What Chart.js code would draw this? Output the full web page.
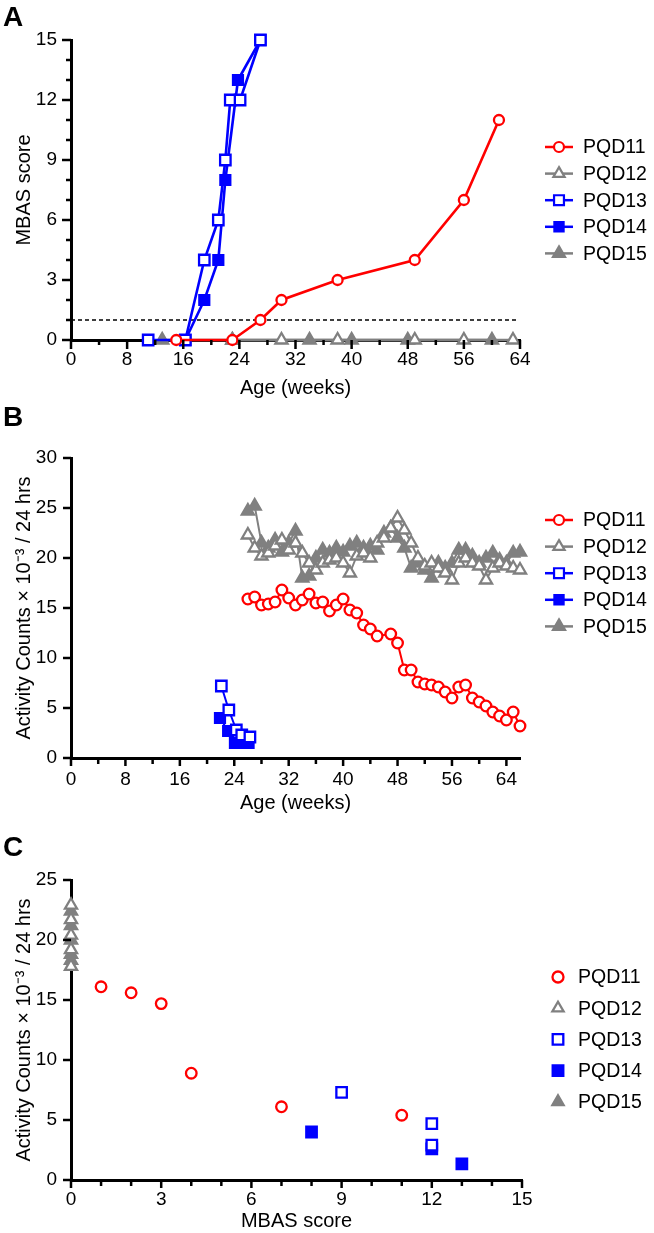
<!DOCTYPE html>
<html>
<head>
<meta charset="utf-8">
<script src="https://cdn.jsdelivr.net/npm/chart.js@4.4.1/dist/chart.umd.min.js"></script>
<style>
  body { margin: 0; background: #fff; width: 654px; height: 1233px; position: relative; overflow: hidden;
         font-family: "Liberation Sans", Arial, sans-serif; }
  .panel { position: absolute; left: 0; width: 654px; }
  .panel canvas { display: block; }
  .letter { position: absolute; left: 3px; font-weight: bold; font-size: 28px; line-height: 1; }
</style>
</head>
<body>
<div class="panel" style="top:0;height:400px"><canvas id="chartA" width="654" height="400"></canvas></div>
<div class="panel" style="top:400px;height:420px"><canvas id="chartB" width="654" height="420"></canvas></div>
<div class="panel" style="top:820px;height:413px"><canvas id="chartC" width="654" height="413"></canvas></div>
<div class="letter" style="top:3px">A</div>
<div class="letter" style="top:403px">B</div>
<div class="letter" style="top:833px">C</div>

<script>
// ---- Panel A: MBAS score vs age ----
const aWeeks11 = [15, 23, 27, 30, 38, 49, 56, 61];
const aScore11 = [0, 0, 1, 2, 3, 4, 7, 11];
const aWeeks12 = [23, 30, 38, 49, 56, 63];
const aScore12 = [0, 0, 0, 0, 0, 0];
const aWeeks13 = [11, 16.3, 19, 21, 22, 22.7, 24.1, 27];
const aScore13 = [0, 0, 4, 6, 9, 12, 12, 15];
const aWeeks14 = [16.3, 19, 21, 22, 23.8, 27];
const aScore14 = [0, 2, 4, 8, 13, 15];
const aWeeks15 = [13, 23, 34, 40, 48, 60];
const aScore15 = [0, 0, 0, 0, 0, 0];
const aThresholdX = [0, 63.5];
const aThresholdY = [1, 1];
const aTicksX = [0, 8, 16, 24, 32, 40, 48, 56, 64];
const aMinorX = [4, 12, 20, 28, 36, 44, 52, 60];
const aTicksY = [0, 3, 6, 9, 12, 15];
const aMinorY = [1, 2, 4, 5, 7, 8, 10, 11, 13, 14];

// ---- Panel B: activity vs age ----
const bWeeks11 = [26, 27, 28, 29, 30, 31, 32, 33, 34, 35, 36, 37, 38, 39, 40, 41, 42, 43, 44, 45,
                  47, 48, 49, 50, 51, 52, 53, 54, 55, 56, 57, 58, 59, 60, 61, 62, 63, 64, 65, 66];
const bAct11 = [15.9, 16.1, 15.3, 15.4, 15.6, 16.8, 16.0, 15.3, 15.8, 16.4, 15.5, 15.6, 14.7, 15.3, 15.9, 14.8, 14.5, 13.3, 12.9, 12.2,
                12.4, 11.5, 8.8, 8.8, 7.6, 7.4, 7.3, 7.1, 6.6, 6.0, 7.1, 7.3, 6.0, 5.6, 5.2, 4.6, 4.2, 3.8, 4.6, 3.2];
const bWeeks12 = [26, 27, 28, 29, 30, 31, 32, 33, 34, 35, 36, 37, 38, 39, 40, 41, 42, 43, 44, 45, 46,
                  47, 48, 49, 50, 51, 52, 53, 54, 55, 56, 57, 58, 59, 60, 61, 62, 63, 64, 65, 66];
const bAct12 = [22.3, 21.0, 20.2, 20.5, 21.2, 21.8, 20.8, 21.5, 20.5, 19.5, 18.8, 19.5, 19.8, 20.0, 19.5, 18.5, 20.2, 20.5, 20.0, 21.5, 22.0,
                23.0, 24.0, 22.8, 21.5, 20.0, 19.2, 19.5, 19.0, 18.5, 17.8, 19.5, 20.0, 19.5, 19.2, 17.8, 19.0, 19.5, 19.2, 19.0, 18.8];
const bWeeks13 = [22.1, 23.2, 24.3, 25.1, 26.3];
const bAct13 = [7.2, 4.8, 2.8, 2.3, 2.1];
const bWeeks14 = [21.9, 23.1, 24.1, 25.1, 26.1];
const bAct14 = [4.0, 2.7, 1.5, 1.5, 1.5];
const bWeeks15 = [26, 27, 28, 29, 30, 31, 32, 33, 34, 35, 36, 37, 38, 39, 40, 41, 42, 43, 44, 45, 46,
                  47, 48, 49, 50, 51, 52, 53, 54, 55, 56, 57, 58, 59, 60, 61, 62, 63, 64, 65, 66];
const bAct15 = [24.7, 25.2, 21.5, 21.0, 21.8, 20.6, 21.5, 22.7, 18.0, 18.2, 20.0, 20.8, 20.5, 21.0, 20.6, 21.2, 21.5, 21.0, 21.2, 20.8, 22.5,
                23.0, 22.0, 21.0, 19.0, 19.5, 18.8, 18.0, 19.5, 19.0, 19.5, 20.8, 20.8, 20.2, 19.5, 20.0, 20.5, 19.8, 19.5, 20.5, 20.6];
const bTicksX = [0, 8, 16, 24, 32, 40, 48, 56, 64];
const bMinorX = [4, 12, 20, 28, 36, 44, 52, 60];
const bTicksY = [0, 5, 10, 15, 20, 25, 30];

// ---- Panel C: activity vs MBAS score ----
const cScore11 = [1, 2, 3, 4, 7, 11];
const cAct11 = [16.1, 15.6, 14.7, 8.9, 6.1, 5.4];
const cScore12 = [0, 0, 0, 0, 0];
const cAct12 = [22.9, 21.7, 20.4, 19.2, 17.8];
const cScore13 = [9, 12, 12];
const cAct13 = [7.3, 4.7, 2.9];
const cScore14 = [8, 12, 13];
const cAct14 = [4.0, 2.6, 1.35];
const cScore15 = [0, 0, 0, 0, 0];
const cAct15 = [22.4, 21.2, 20.0, 18.8, 18.3];
const cTicksX = [0, 3, 6, 9, 12, 15];
const cMinorX = [1, 2, 4, 5, 7, 8, 10, 11, 13, 14];
const cTicksY = [0, 5, 10, 15, 20, 25];

const names = ['PQD11', 'PQD12', 'PQD13', 'PQD14', 'PQD15'];
const RED = '#ff0000', GRAY = '#808080', BLUE = '#0000ff';
const FONT = '"Liberation Sans", Arial, sans-serif';

Chart.defaults.font.family = FONT;
Chart.defaults.font.size = 19;
Chart.defaults.color = '#000';
Chart.defaults.animation = false;

function pts(xs, ys) {
  return xs.map((x, i) => ({ x: x, y: ys[i] }));
}

// hand-made marker for the legend
function marker(ctx, style, x, y, r, fill, stroke, lw) {
  ctx.beginPath();
  if (style === 'circle') {
    ctx.arc(x, y, r, 0, Math.PI * 2);
  } else if (style === 'rect') {
    const s = r * Math.SQRT1_2;
    ctx.rect(x - s, y - s, 2 * s, 2 * s);
  } else {
    ctx.moveTo(x, y - r);
    ctx.lineTo(x + r * Math.sin(2 * Math.PI / 3), y - r * Math.cos(2 * Math.PI / 3));
    ctx.lineTo(x + r * Math.sin(4 * Math.PI / 3), y - r * Math.cos(4 * Math.PI / 3));
    ctx.closePath();
  }
  ctx.fillStyle = fill;
  ctx.fill();
  ctx.lineWidth = lw;
  ctx.strokeStyle = stroke;
  ctx.stroke();
}

// tick marks (major + minor) drawn from the scales
const tickMarks = {
  id: 'tickMarks',
  afterDraw(chart, args, o) {
    const { ctx } = chart;
    const x = chart.scales.x, y = chart.scales.y;
    const area = chart.chartArea;
    ctx.save();
    ctx.strokeStyle = '#000';
    ctx.lineWidth = o.width;
    ctx.lineCap = 'butt';
    const hx = (vals, len) => vals.forEach(v => {
      const p = x.getPixelForValue(v);
      ctx.beginPath(); ctx.moveTo(p, area.bottom); ctx.lineTo(p, area.bottom + len); ctx.stroke();
    });
    const vy = (vals, len) => vals.forEach(v => {
      const p = y.getPixelForValue(v);
      ctx.beginPath(); ctx.moveTo(area.left, p); ctx.lineTo(area.left - len, p); ctx.stroke();
    });
    hx(o.xMajor || [], o.major);
    hx(o.xMinor || [], o.minor);
    vy(o.yMajor || [], o.major);
    vy(o.yMinor || [], o.minor);
    ctx.restore();
  }
};

// legend at the right side
const sideLegend = {
  id: 'sideLegend',
  afterDraw(chart, args, o) {
    const { ctx } = chart;
    ctx.save();
    ctx.font = '19.5px ' + FONT;
    ctx.textBaseline = 'middle';
    let i = 0;
    chart.data.datasets.forEach(ds => {
      if (ds.noLegend) return;
      const yy = o.top + i * o.gap;
      if (o.line) {
        ctx.strokeStyle = ds.borderColor;
        ctx.lineWidth = o.lineWidth;
        ctx.beginPath(); ctx.moveTo(o.x - o.half, yy); ctx.lineTo(o.x + o.half, yy); ctx.stroke();
      }
      marker(ctx, ds.pointStyle, o.x, yy, ds.legendRadius, ds.pointBackgroundColor, ds.borderColor, o.markerLine);
      ctx.fillStyle = '#000';
      ctx.fillText(ds.label, o.textX, yy + 1);
      i++;
    });
    ctx.restore();
  }
};

function series(label, data, color, style, filled, radius, lineW, legendRadius) {
  return {
    label: label,
    data: data,
    borderColor: color,
    backgroundColor: color,
    borderWidth: lineW,
    pointStyle: style,
    pointRadius: radius,
    pointHoverRadius: radius,
    pointBorderWidth: 2.3,
    pointBorderColor: color,
    pointBackgroundColor: filled ? color : '#ffffff',
    legendRadius: legendRadius,
    tension: 0,
    clip: false
  };
}

function axis(min, max, majors, pad, title, titlePad, size, isX) {
  return {
    type: 'linear',
    min: min,
    max: max,
    afterBuildTicks: s => { s.ticks = majors.map(v => ({ value: v })); },
    afterFit: s => { if (isX) s.height = size; else s.width = size; },
    grid: { display: false, drawTicks: false },
    border: { display: true, color: '#000', width: 3 },
    ticks: { padding: pad, color: '#000', font: { size: 19 }, maxRotation: 0, autoSkip: false },
    title: { display: true, text: title, color: '#000', font: { size: 20 }, padding: titlePad }
  };
}

// ---------- A ----------
new Chart(document.getElementById('chartA'), {
  type: 'line',
  data: {
    datasets: [
      series(names[0], pts(aWeeks11, aScore11), RED, 'circle', false, 5, 2.6, 5),
      series(names[1], pts(aWeeks12, aScore12), GRAY, 'triangle', false, 7, 2.6, 6.5),
      series(names[2], pts(aWeeks13, aScore13), BLUE, 'rect', false, 7.4, 2.6, 7),
      series(names[3], pts(aWeeks14, aScore14), BLUE, 'rect', true, 7, 2.6, 6.5),
      series(names[4], pts(aWeeks15, aScore15), GRAY, 'triangle', true, 7, 2.6, 7),
      { label: 'threshold', data: pts(aThresholdX, aThresholdY), borderColor: '#000', borderWidth: 1.4,
        borderDash: [4, 3], pointRadius: 0, noLegend: true, clip: false }
    ]
  },
  options: {
    responsive: false,
    layout: { padding: { left: 0, right: 134, top: 40, bottom: 0 } },
    plugins: {
      legend: { display: false }, tooltip: { enabled: false },
      tickMarks: { xMajor: aTicksX, xMinor: aMinorX, yMajor: aTicksY, yMinor: aMinorY, major: 9, minor: 5, width: 2.5 },
      sideLegend: { x: 559, half: 14, textX: 583, top: 147, gap: 26.6, line: true, lineWidth: 2.5, markerLine: 2.2 }
    },
    scales: {
      x: axis(0, 64, aTicksX, 8.5, 'Age (weeks)', { top: 0, bottom: 0 }, 60, true),
      y: axis(0, 15, aTicksY, 14, 'MBAS score', { top: 12, bottom: 0 }, 71, false)
    }
  },
  plugins: [tickMarks, sideLegend]
});

// ---------- B ----------
new Chart(document.getElementById('chartB'), {
  type: 'line',
  data: {
    datasets: [
      series(names[0], pts(bWeeks11, bAct11), RED, 'circle', false, 5.3, 2, 5),
      series(names[1], pts(bWeeks12, bAct12), GRAY, 'triangle', false, 7, 2, 6.5),
      series(names[2], pts(bWeeks13, bAct13), BLUE, 'rect', false, 7.4, 2, 7),
      series(names[3], pts(bWeeks14, bAct14), BLUE, 'rect', true, 7, 2, 6.5),
      series(names[4], pts(bWeeks15, bAct15), GRAY, 'triangle', true, 7, 2, 7)
    ]
  },
  options: {
    responsive: false,
    layout: { padding: { left: 0, right: 134, top: 58, bottom: 0 } },
    plugins: {
      legend: { display: false }, tooltip: { enabled: false },
      tickMarks: { xMajor: bTicksX, xMinor: bMinorX, yMajor: bTicksY, yMinor: [], major: 8, minor: 6, width: 2.5 },
      sideLegend: { x: 559, half: 14, textX: 583, top: 120, gap: 26.6, line: true, lineWidth: 2.5, markerLine: 2.2 }
    },
    scales: {
      x: axis(0, 66, bTicksX, 10.5, 'Age (weeks)', { top: 0, bottom: 5 }, 62, true),
      y: axis(0, 30, bTicksY, 14, 'Activity Counts \u00d7 10\u207b\u00b3 / 24 hrs', { top: 12, bottom: 0 }, 71, false)
    }
  },
  plugins: [tickMarks, sideLegend]
});

// ---------- C ----------
new Chart(document.getElementById('chartC'), {
  type: 'scatter',
  data: {
    datasets: [
      series(names[0], pts(cScore11, cAct11), RED, 'circle', false, 5.3, 0, 5.5),
      series(names[1], pts(cScore12, cAct12), GRAY, 'triangle', false, 7, 0, 6.5),
      series(names[2], pts(cScore13, cAct13), BLUE, 'rect', false, 7.4, 0, 7.5),
      series(names[3], pts(cScore14, cAct14), BLUE, 'rect', true, 7.4, 0, 7.5),
      series(names[4], pts(cScore15, cAct15), GRAY, 'triangle', true, 7, 0, 6.5)
    ]
  },
  options: {
    responsive: false,
    layout: { padding: { left: 0, right: 132, top: 60, bottom: 0 } },
    plugins: {
      legend: { display: false }, tooltip: { enabled: false },
      tickMarks: { xMajor: cTicksX, xMinor: cMinorX, yMajor: cTicksY, yMinor: [], major: 8, minor: 6, width: 2.5 },
      sideLegend: { x: 558, half: 0, textX: 578, top: 157, gap: 31.2, line: false, lineWidth: 0, markerLine: 2.3 }
    },
    scales: {
      x: axis(0, 15, cTicksX, 8.5, 'MBAS score', { top: 0, bottom: 0 }, 53, true),
      y: axis(0, 25, cTicksY, 14, 'Activity Counts \u00d7 10\u207b\u00b3 / 24 hrs', { top: 12, bottom: 0 }, 71, false)
    }
  },
  plugins: [tickMarks, sideLegend]
});
</script>
</body>
</html>
